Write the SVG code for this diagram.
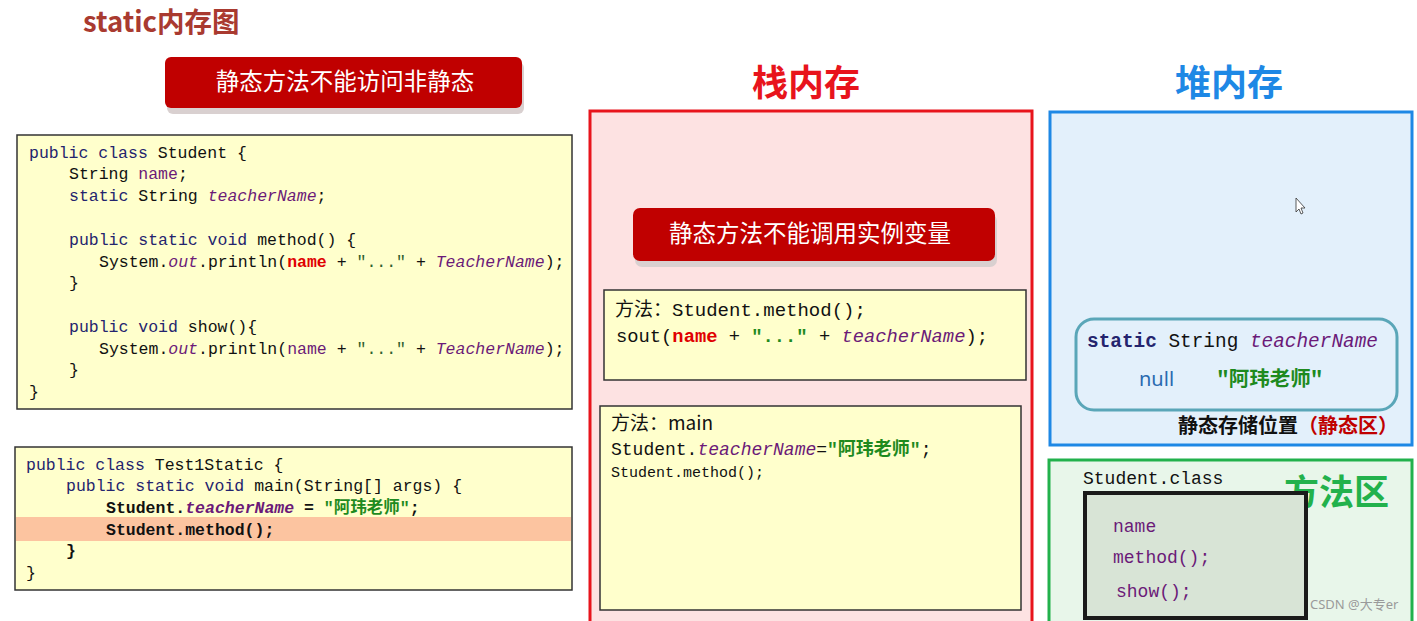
<svg xmlns="http://www.w3.org/2000/svg" width="1417" height="621" viewBox="0 0 1417 621">
<defs>
<style>
.mono{font-family:"Liberation Mono","DejaVu Sans Mono","Noto Sans CJK SC",monospace;white-space:pre}
.sans{font-family:"Noto Sans","Noto Sans CJK SC",sans-serif}
.cjk{font-family:"Noto Sans CJK SC","Noto Sans",sans-serif}
.kw{fill:#24246e}
.pl{fill:#111}
.fd{fill:#6b1a78}
.it{font-style:italic}
.str{fill:#1e8a1e;font-weight:bold}
.dots{fill:#2f5f2f}
.red{fill:#e00000;font-weight:bold}
.code{fill:#ffffcc;stroke:#333;stroke-width:1.5}
.btn{fill:#c00000}
.shadow{fill:#d9d0d0}
.btntxt{fill:#fff;font-size:23.5px;font-family:"Noto Sans CJK SC",sans-serif}
.head{font-family:"Noto Sans CJK SC",sans-serif;font-size:36px;font-weight:bold}
</style>
</defs>
<rect width="1417" height="621" fill="#fff"/>

<g id="title">
<text x="83" y="32" class="cjk" font-size="27.5" font-weight="bold" fill="#a93a30">static内存图</text>
</g>

<g id="btn-access">
<rect class="shadow" x="167" y="62" width="357" height="52" rx="6"/>
<rect class="btn" x="165" y="57" width="357" height="51" rx="6"/>
<text class="btntxt" x="345" y="90" text-anchor="middle">静态方法不能访问非静态</text>
</g>

<g id="code-student">
<rect class="code" x="17" y="135" width="555" height="274"/>
<text class="mono" font-size="16.5">
<tspan x="29" y="158"><tspan class="kw">public class</tspan><tspan class="pl"> Student {</tspan></tspan>
<tspan x="69" y="179"><tspan class="pl">String </tspan><tspan class="fd">name</tspan><tspan class="pl">;</tspan></tspan>
<tspan x="69" y="201"><tspan class="kw">static</tspan><tspan class="pl"> String </tspan><tspan class="fd it">teacherName</tspan><tspan class="pl">;</tspan></tspan>
<tspan x="69" y="245"><tspan class="kw">public static void</tspan><tspan class="pl"> method() {</tspan></tspan>
<tspan x="99" y="267"><tspan class="pl">System.</tspan><tspan class="fd it">out</tspan><tspan class="pl">.println(</tspan><tspan class="red">name</tspan><tspan class="pl"> + </tspan><tspan class="dots">"..."</tspan><tspan class="pl"> + </tspan><tspan class="fd it">TeacherName</tspan><tspan class="pl">);</tspan></tspan>
<tspan x="69" y="288" class="pl">}</tspan>
<tspan x="69" y="332"><tspan class="kw">public void</tspan><tspan class="pl"> show(){</tspan></tspan>
<tspan x="99" y="354"><tspan class="pl">System.</tspan><tspan class="fd it">out</tspan><tspan class="pl">.println(</tspan><tspan class="fd">name</tspan><tspan class="pl"> + </tspan><tspan class="dots">"..."</tspan><tspan class="pl"> + </tspan><tspan class="fd it">TeacherName</tspan><tspan class="pl">);</tspan></tspan>
<tspan x="69" y="375" class="pl">}</tspan>
<tspan x="29" y="397" class="pl">}</tspan>
</text>
</g>

<g id="code-test">
<rect class="code" x="15" y="447" width="557" height="143"/>
<rect x="16" y="517" width="555" height="24" fill="#fcc4a0"/>
<text class="mono" font-size="16.5">
<tspan x="26" y="470"><tspan class="kw">public class</tspan><tspan class="pl"> Test1Static {</tspan></tspan>
<tspan x="66" y="491"><tspan class="kw">public static void</tspan><tspan class="pl"> main(String[] args) {</tspan></tspan>
<tspan x="106" y="513" font-weight="bold"><tspan class="pl">Student.</tspan><tspan class="fd it">teacherName</tspan><tspan class="pl"> = </tspan><tspan class="str">"阿玮老师"</tspan><tspan class="pl">;</tspan></tspan>
<tspan x="106" y="535" font-weight="bold" class="pl">Student.method();</tspan>
<tspan x="66" y="556" font-weight="bold" class="pl">}</tspan>
<tspan x="26" y="578" class="pl">}</tspan>
</text>
</g>

<g id="stack">
<text x="806" y="96" text-anchor="middle" class="head" fill="#e8141c">栈内存</text>
<rect x="590" y="111" width="442" height="520" fill="#fde2e2" stroke="#e8141c" stroke-width="3"/>
</g>

<g id="btn-instance">
<rect class="shadow" x="635" y="214" width="362" height="53" rx="7"/>
<rect class="btn" x="633" y="208" width="362" height="53" rx="7"/>
<text class="btntxt" x="810" y="242" text-anchor="middle">静态方法不能调用实例变量</text>
</g>

<g id="frame-method">
<rect class="code" x="604" y="290" width="422" height="90"/>
<text x="615" y="316" font-size="19" class="mono"><tspan class="cjk pl">方法：</tspan><tspan class="pl">Student.method();</tspan></text>
<text x="616" y="342" font-size="18.8" class="mono"><tspan class="pl">sout(</tspan><tspan class="red">name</tspan><tspan class="pl"> + </tspan><tspan class="str" font-weight="normal">"..."</tspan><tspan class="pl"> + </tspan><tspan class="fd it">teacherName</tspan><tspan class="pl">);</tspan></text>
</g>

<g id="frame-main">
<rect class="code" x="600" y="406" width="421" height="204"/>
<text x="611" y="430" font-size="19" class="cjk pl">方法：main</text>
<text x="611" y="455" font-size="18" class="mono"><tspan class="pl">Student.</tspan><tspan class="fd it">teacherName</tspan><tspan class="pl">=</tspan><tspan class="str">"阿玮老师"</tspan><tspan class="pl">;</tspan></text>
<text x="611" y="477" font-size="15" class="mono pl">Student.method();</text>
</g>

<g id="heap">
<text x="1229" y="96" text-anchor="middle" class="head" fill="#1e88e5">堆内存</text>
<rect x="1050" y="112" width="362" height="333" fill="#e3f0fb" stroke="#1e88e5" stroke-width="3"/>
<path d="M1296 198 L1296 212 L1299 209 L1301 214 L1303 213 L1301 208 L1305 208 Z" fill="#fff" stroke="#333" stroke-width="0.8"/>
</g>

<g id="static-area">
<rect x="1076" y="319" width="321" height="91" rx="18" fill="#e3f0fb" stroke="#5aa6b8" stroke-width="3"/>
<text x="1087" y="347" font-size="19.4" class="mono"><tspan class="kw" font-weight="bold">static</tspan><tspan class="pl"> String </tspan><tspan class="fd it">teacherName</tspan></text>
<text x="1139" y="386" font-size="20" class="sans" fill="#2a6ab0">null</text>
<text x="1217" y="386" font-size="20.5" class="cjk str">"阿玮老师"</text>
<text x="1178" y="433" font-size="20" class="cjk" font-weight="bold"><tspan fill="#111">静态存储位置</tspan><tspan fill="#c00000">（静态区）</tspan></text>
</g>

<g id="method-area">
<rect x="1049" y="460" width="363" height="175" fill="#e8f6ea" stroke="#22b14c" stroke-width="3"/>
<text x="1284" y="505" font-size="35" class="cjk" font-weight="bold" fill="#22b14c">方法区</text>
<text x="1083" y="484" font-size="18" class="mono pl">Student.class</text>
</g>

<g id="student-class">
<rect x="1085" y="493" width="221" height="125" fill="#d8e4d6" stroke="#1a1a1a" stroke-width="4"/>
<text x="1113" y="532" font-size="18" class="mono fd">name</text>
<text x="1113" y="563" font-size="18" class="mono fd">method();</text>
<text x="1116" y="597" font-size="18" class="mono fd">show();</text>
</g>

<text x="1310" y="609" font-size="13" class="sans" fill="#9a9a9a">CSDN @大专er</text>
</svg>
